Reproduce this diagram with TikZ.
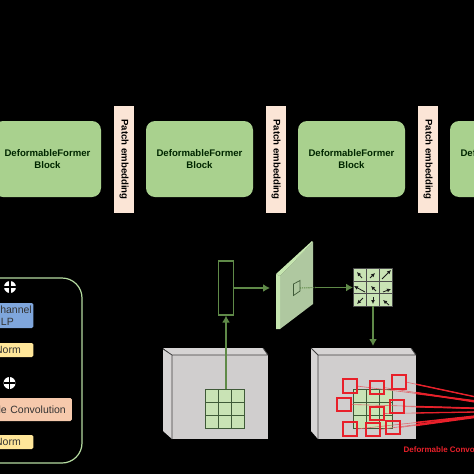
\documentclass[tikz,border=0pt]{standalone}
\usepackage{fontspec}
\setmainfont{Liberation Sans}
\usetikzlibrary{arrows.meta}
\definecolor{blockg}{HTML}{A9D18E}
\definecolor{patchc}{HTML}{FBE5D6}
\definecolor{gline}{HTML}{5F8A48}
\definecolor{gdark}{HTML}{3F5A38}
\definecolor{gridg}{HTML}{C9E3B5}
\definecolor{slabf}{HTML}{AFC8A0}
\definecolor{slabl}{HTML}{C6E6B0}
\definecolor{bluec}{HTML}{7FA6DC}
\definecolor{yelc}{HTML}{FFE699}
\definecolor{orac}{HTML}{F6C9AC}
\definecolor{panelg}{HTML}{B5DBA0}
\definecolor{cubef}{HTML}{D0CECE}
\definecolor{cubes}{HTML}{D6D4D4}
\definecolor{redc}{HTML}{E8202A}
\definecolor{redp}{HTML}{E06A70}
\tikzset{
 blockbox/.style={draw=none,fill=blockg,rounded corners=9pt,minimum width=107pt,minimum height=76pt,inner sep=0pt,align=center,font=\bfseries\fontsize{9.6}{11.5}\selectfont,text=black!85!green},
 patchbox/.style={draw=none,fill=patchc,minimum width=107pt,minimum height=20pt,inner sep=0pt,rotate=-90,font=\bfseries\fontsize{9.6}{10}\selectfont},
 legbox/.style={draw=none,rounded corners=1.5pt,inner xsep=1.5pt,inner ysep=0pt,anchor=east,align=right,text width=97pt,font=\fontsize{10.5}{12}\selectfont,text=black!80},
 arr/.style={draw=gline,line width=1.4pt,-{Latex[length=7pt,width=8pt]}},
 redsq/.style={minimum size=13pt,inner sep=0pt},
 plusn/.style={circle,fill=white,minimum size=12pt,inner sep=0pt,
   path picture={\draw[black,line width=1.1pt] (path picture bounding box.north)--(path picture bounding box.south) (path picture bounding box.west)--(path picture bounding box.east);}},
 vec/.style={draw=black!90,line width=.8pt,-{Latex[length=4pt,width=4pt]}}
}
\begin{document}
\begin{tikzpicture}[x=1pt,y=-1pt]
\useasboundingbox (0,0) rectangle (474,474);
\clip (0,0) rectangle (474,474);
\fill[black] (0,0) rectangle (474,474);
% blocks
\node[blockbox] (b1) at (47.5,159) {DeformableFormer\\Block};
\node[blockbox] (b2) at (199.5,159) {DeformableFormer\\Block};
\node[blockbox] (b3) at (351.5,159) {DeformableFormer\\Block};
\node[blockbox] (b4) at (503.5,159) {DeformableFormer\\Block};
\node[patchbox] (p1) at (124,159.5) {Patch embedding};
\node[patchbox] (p2) at (276,159.5) {Patch embedding};
\node[patchbox] (p3) at (428,159.5) {Patch embedding};
% left panel
\draw[panelg,line width=1.2pt,rounded corners=20pt] (-40,278) rectangle (82,463);
\node[plusn] (pl1) at (10,287) {};
\node[plusn] (pl2) at (9.5,383) {};
\node[legbox,fill=bluec,minimum height=25pt] (mlp) at (33.5,315.5) {Channel\\MLP\hspace*{18pt}};
\node[legbox,fill=yelc,minimum height=14pt] (n1) at (33.5,350) {Norm\hspace*{11pt}};
\node[legbox,fill=orac,text width=121pt,minimum height=23pt] (dc) at (72,409.5) {Deformable Convolution\hspace*{4.5pt}};
\node[legbox,fill=yelc,minimum height=14pt] (n2) at (33.5,442) {Norm\hspace*{11pt}};
% cuboid 1
\fill[cubes] (163,349) -- (172,355) -- (172,439) -- (163,431) -- cycle;
\fill[cubes] (163,348) -- (263,348) -- (268,355) -- (172,355) -- cycle;
\fill[cubef] (172,355) rectangle (268,439);
\draw[black!75,line width=.8pt] (163,349) -- (172,355) -- (172,439) (172,355) -- (268,355) (263,348) -- (268,355);
\foreach \i in {0,1,2}\foreach \j in {0,1,2}
  \draw[draw=gdark,fill=gridg,line width=.9pt] (205.5+13*\i,389+13*\j) rectangle ++(13,13);
\coordinate (g1top) at (226,389);
% tall rect
\node[draw=gline,line width=1.2pt,minimum width=15.5pt,minimum height=54pt,inner sep=0pt] (tall) at (226,288) {};
\draw[arr] (g1top) -- (tall.south);
% slab
\fill[slabf] (280,276) -- (313,242) -- (313,304) -- (280,329) -- cycle;
\fill[slabl] (276,274) -- (280,276) -- (280,329) -- (276,329) -- cycle;
\fill[slabl] (276,274) -- (312,241) -- (313,242) -- (280,276) -- cycle;
\draw[gdark,line width=.7pt] (293.5,284) -- (300,280.5) -- (300,291) -- (293.5,295.5) -- cycle;
\coordinate (patch) at (300,288);
\coordinate (slabL) at (270,288);
\draw[arr] (tall.east |- slabL) -- (slabL);
% grid of vectors
\foreach \i in {0,1,2}\foreach \j in {0,1,2}
  \draw[draw=black!70,fill=gridg,line width=.5pt] (353+13*\i,268+12.8*\j) rectangle ++(13,12.8);
\coordinate (vg) at (353,287.5);
\draw[gline,line width=1.1pt,densely dotted] (patch) -- (316,287.5);
\draw[gline,line width=1.3pt,-{Latex[length=7pt,width=8pt]}] (316,287.5) -- (vg);
\foreach \x/\y/\dx/\dy in {362/278/-5/-6,370/278/5/-5,382/279/9/-9,
  365/292/-11/-6,376/291/-5/-5,383/292/8/-3,
  363/298/-6/6,373/297/0/7,389/305/-6/-5}
  \draw[vec] (\x,\y) -- ++(\dx,\dy);
\coordinate (vgb) at (373,306);
% cuboid 2
\fill[cubes] (311,348) -- (318,355) -- (318,439) -- (311,431) -- cycle;
\fill[cubes] (311,348) -- (411,348) -- (416,355) -- (318,355) -- cycle;
\fill[cubef] (318,355) rectangle (416,439);
\draw[black!75,line width=.8pt] (311,348) -- (318,355) -- (318,439) (318,355) -- (416,355) (411,348) -- (416,355);
\coordinate (cubetop) at (373,346);
\draw[arr] (vgb) -- (cubetop);
\foreach \i in {0,1,2}\foreach \j in {0,1,2}
  \draw[draw=gdark,fill=gridg,line width=.8pt] (353+13*\i,389+13*\j) rectangle ++(13,13);
% red squares and lines
\foreach \n/\x/\y in {a/350/386,b/377/387.5,c/399/382,d/344/404.5,e/397/406.5,f/377/413.5,g/350/429,h/373/429.5,i/393/427.5}
  \node[redsq] (s\n) at (\x,\y) {};
\foreach \n/\ey in {a/401,b/402,c/397,d/408,e/408.5,f/412,g/416,h/416.5,i/417}{
  \coordinate (e\n) at (476,\ey);
  \draw[redp,line width=.6pt] (s\n.east) -- (e\n);
}
\begin{scope}
  \clip (416,0) rectangle (474,474);
  \foreach \n/\w in {a/1.6,b/1.6,c/1.4,d/1.1,e/1.3,f/1.3,g/1.6,h/1.6,i/2}
    \draw[redc,line width=\w pt] (s\n.east) -- (e\n);
\end{scope}
\foreach \n in {a,b,c,d,e,f,g,h,i}
  \draw[redc,line width=1.7pt] (s\n.south west) rectangle (s\n.north east);
\node[anchor=west,inner sep=0pt,text=redc,font=\bfseries\fontsize{8}{9}\selectfont] (lab) at (403.5,449.5) {Deformable Convolution};
\end{tikzpicture}
\end{document}
